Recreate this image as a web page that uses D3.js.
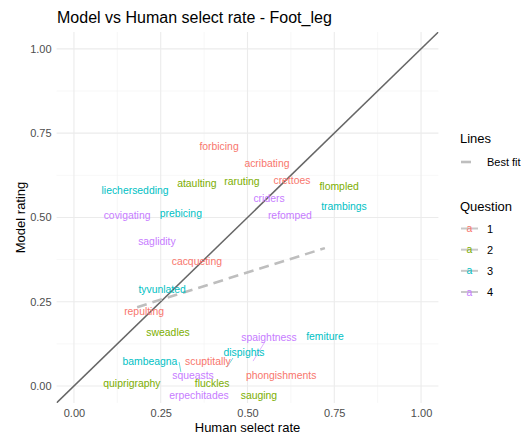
<!DOCTYPE html>
<html><head><meta charset="utf-8">
<script src="https://cdn.jsdelivr.net/npm/d3@7"></script>
<style>body{margin:0;background:#fff}svg{display:block}text{font-family:"Liberation Sans",Arial,Helvetica,sans-serif}</style>
</head><body><svg id="c" width="521" height="436"></svg>
<script>
const words = ["forbicing","acribating","crettoes","ataulting","raruting","flompled","liechersedding","criders","trambings","covigating","prebicing","refomped","saglidity","cacqueting","tyvunlated","repulting","sweadles","spaightness","femiture","dispights","bambeagna","scuptitally","squeasts","phongishments","quiprigraphy","fluckles","erpechitades","sauging"];
const question = [1,1,1,2,2,2,3,4,3,4,3,4,4,1,3,1,2,4,3,3,3,1,4,1,2,2,4,2];
const human = [0.418,0.556,0.628,0.354,0.484,0.764,0.176,0.562,0.778,0.153,0.308,0.622,0.239,0.354,0.254,0.202,0.271,0.562,0.723,0.490,0.219,0.386,0.343,0.597,0.167,0.398,0.360,0.533];
const model = [0.709,0.659,0.611,0.602,0.608,0.591,0.579,0.555,0.531,0.507,0.513,0.507,0.430,0.368,0.285,0.220,0.160,0.145,0.148,0.098,0.074,0.074,0.030,0.030,0.009,0.009,-0.027,-0.027];
// repel segments: label edge -> point
const segWord = ["bambeagna","dispights","spaightness"];
const segQuestion = [3,3,4];
const segFromH = [0.303,0.458,0.550], segFromM = [0.071,0.083,0.131];
const segToH = [0.308,0.441,0.516], segToM = [0.042,0.056,0.074];
const fitH = [0.182,0.723], fitM = [0.234,0.409];
const ticks = [0,0.25,0.5,0.75,1];
const minorTicks = [0.125,0.375,0.625,0.875];
const qLevels = [1,2,3,4];
const qColors = ["#F8766D","#7CAE00","#00BFC4","#C77CFF"];

const svg = d3.select("#c");
const x = d3.scaleLinear().domain([-0.05,1.05]).range([56.6,438.4]);
const y = d3.scaleLinear().domain([-0.05,1.05]).range([402.9,32]);
const col = d3.scaleOrdinal().domain(qLevels).range(qColors);

const g = svg.append("g");
// minor grid
g.selectAll(".mx").data(minorTicks).join("line").attr("x1",d=>x(d)).attr("x2",d=>x(d)).attr("y1",y(-0.05)).attr("y2",y(1.05)).attr("stroke","#F2F2F2").attr("stroke-width",0.6);
g.selectAll(".my").data(minorTicks).join("line").attr("y1",d=>y(d)).attr("y2",d=>y(d)).attr("x1",x(-0.05)).attr("x2",x(1.05)).attr("stroke","#F2F2F2").attr("stroke-width",0.6);
// major grid
g.selectAll(".gx").data(ticks).join("line").attr("x1",d=>x(d)).attr("x2",d=>x(d)).attr("y1",y(-0.05)).attr("y2",y(1.05)).attr("stroke","#EBEBEB").attr("stroke-width",1.1);
g.selectAll(".gy").data(ticks).join("line").attr("y1",d=>y(d)).attr("y2",d=>y(d)).attr("x1",x(-0.05)).attr("x2",x(1.05)).attr("stroke","#EBEBEB").attr("stroke-width",1.1);

// axes tick labels
const xa = d3.axisBottom(x).tickValues(ticks).tickFormat(d3.format(".2f")).tickSize(0).tickPadding(6);
svg.append("g").attr("transform",`translate(0,${y(-0.05)})`).call(xa).call(s=>{s.select(".domain").remove();s.selectAll("text").attr("fill","#4D4D4D").attr("font-size",11).style("font-family","'Liberation Sans',Arial,sans-serif");});
const ya = d3.axisLeft(y).tickValues(ticks).tickFormat(d3.format(".2f")).tickSize(0).tickPadding(5);
svg.append("g").attr("transform",`translate(${x(-0.05)},0)`).call(ya).call(s=>{s.select(".domain").remove();s.selectAll("text").attr("fill","#4D4D4D").attr("font-size",11).style("font-family","'Liberation Sans',Arial,sans-serif");});

// clip
svg.append("clipPath").attr("id","pc").append("rect").attr("x",x(-0.05)).attr("y",y(1.05)).attr("width",x(1.05)-x(-0.05)).attr("height",y(-0.05)-y(1.05));
const p = svg.append("g").attr("clip-path","url(#pc)");
// identity
p.append("line").attr("x1",x(-0.05)).attr("y1",y(-0.05)).attr("x2",x(1.05)).attr("y2",y(1.05)).attr("stroke","#666666").attr("stroke-width",1.5);
// best fit
p.append("line").attr("x1",x(fitH[0])).attr("y1",y(fitM[0])).attr("x2",x(fitH[1])).attr("y2",y(fitM[1])).attr("stroke","#BEBEBE").attr("stroke-width",2.6).attr("stroke-dasharray","10,6");
// segments
p.selectAll(".seg").data(segWord).join("line").attr("x1",(d,i)=>x(segFromH[i])).attr("y1",(d,i)=>y(segFromM[i])).attr("x2",(d,i)=>x(segToH[i])).attr("y2",(d,i)=>y(segToM[i])).attr("stroke",(d,i)=>col(segQuestion[i])).attr("stroke-width",0.6);
// labels
p.selectAll(".lab").data(words).join("text").attr("x",(d,i)=>x(human[i])).attr("y",(d,i)=>y(model[i])).attr("text-anchor","middle").attr("dominant-baseline","central").attr("font-size",10.4).attr("fill",(d,i)=>col(question[i])).text(d=>d);

// titles
svg.append("text").attr("x",57).attr("y",23).attr("font-size",16).attr("fill","#000").text("Model vs Human select rate - Foot_leg");
svg.append("text").attr("x",(x(-0.05)+x(1.05))/2).attr("y",432).attr("text-anchor","middle").attr("font-size",13).attr("fill","#000").text("Human select rate");
svg.append("text").attr("transform",`translate(25,${(y(-0.05)+y(1.05))/2}) rotate(-90)`).attr("text-anchor","middle").attr("font-size",13).attr("fill","#000").text("Model rating");

// legend
const lg = svg.append("g");
lg.append("text").attr("x",460).attr("y",143).attr("font-size",13).text("Lines");
lg.append("line").attr("x1",461).attr("x2",478).attr("y1",162).attr("y2",162).attr("stroke","#BEBEBE").attr("stroke-width",2.6).attr("stroke-dasharray","10,8");
lg.append("text").attr("x",487).attr("y",162).attr("dominant-baseline","central").attr("font-size",11).attr("fill","#000").text("Best fit");
lg.append("text").attr("x",460).attr("y",211).attr("font-size",13).text("Question");
const ly = d3.scaleLinear().domain([1,4]).range([228.5,292]);
lg.selectAll(".kl").data(qLevels).join("line").attr("x1",461).attr("x2",478).attr("y1",d=>ly(d)).attr("y2",d=>ly(d)).attr("stroke","#C8C8C8").attr("stroke-width",2);
lg.selectAll(".ka").data(qLevels).join("text").attr("x",469.5).attr("y",d=>ly(d)).attr("text-anchor","middle").attr("dominant-baseline","central").attr("font-size",10.4).attr("fill",d=>col(d)).text("a");
lg.selectAll(".kt").data(qLevels).join("text").attr("x",487).attr("y",d=>ly(d)).attr("dominant-baseline","central").attr("font-size",11).attr("fill","#000").text(d=>d);
</script></body></html>
